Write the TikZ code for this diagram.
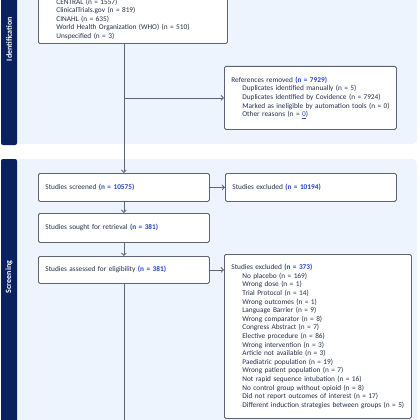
\documentclass[tikz,border=0pt]{standalone}
\usepackage{fontspec}
\setmainfont{Carlito}
\usetikzlibrary{arrows.meta}
\definecolor{navy}{HTML}{0A2160}
\definecolor{panel}{HTML}{EEF4FD}
\definecolor{boxline}{HTML}{5B6579}
\definecolor{txt}{HTML}{222E4A}
\definecolor{count}{HTML}{2547C5}
\newcommand{\cnt}[1]{\textcolor{count}{\textbf{#1}}}
\newcommand{\subln}[1]{\mbox{\hspace{11pt}#1}}
\begin{document}
\begin{tikzpicture}[x=1pt,y=-1pt,font=\fontsize{7.3}{8.6}\selectfont,
  box/.style={draw=boxline,line width=0.8pt,fill=white,rounded corners=1.5pt,
    anchor=north west,align=left,inner xsep=7pt,text=txt},
  arr/.style={draw=boxline,line width=0.8pt,-{Straight Barb[length=2.5pt,width=5pt]}},
  lbl/.style={rotate=90,text=white,font=\fontsize{8}{9}\selectfont\bfseries}]
\useasboundingbox (0,0) rectangle (420,420);
\clip (0,0) rectangle (420,420);
% bands
\fill[panel,rounded corners=4pt] (12,-10) rectangle (417,144);
\fill[navy,rounded corners=2pt] (1,-10) rectangle (17,145);
\fill[panel,rounded corners=4pt] (12,159) rectangle (417,430);
\fill[navy,rounded corners=2pt] (1,159) rectangle (17,430);
\node[lbl] (identlbl) at (9,39) {Identification};
\node[lbl] (screenlbl) at (9,277) {Screening};
% boxes
\node[box,anchor=south west,text width=175pt,inner ysep=4pt] (records) at (38,44)
  {\subln{CENTRAL (n = 1557)}\\
   \subln{ClinicalTrials.gov (n = 819)}\\
   \subln{CINAHL (n = 635)}\\
   \subln{World Health Organization (WHO) (n = 510)}\\
   \subln{Unspecified (n = 3)}};
\node[box,text width=158pt,minimum height=63pt] (removed) at (224,66)
  {References removed \cnt{(n = 7929)}\\
   \subln{Duplicates identified manually (n = 5)}\\
   \subln{Duplicates identified by Covidence (n = 7924)}\\
   \subln{Marked as ineligible by automation tools (n = 0)}\\
   \subln{Other reasons (n = \textcolor{count}{\underline{0}})}};
\node[box,text width=157pt,minimum height=28pt] (screened) at (38,173)
  {Studies screened \cnt{(n = 10575)}};
\node[box,text width=157pt,minimum height=28pt] (excluded) at (225,173)
  {Studies excluded \cnt{(n = 10194)}};
\node[box,text width=157pt,minimum height=29pt] (sought) at (38,213)
  {Studies sought for retrieval \cnt{(n = 381)}};
\node[box,text width=157pt,minimum height=27pt] (assessed) at (38,256)
  {Studies assessed for eligibility \cnt{(n = 381)}};
\node[box,text width=173pt,minimum height=164pt] (reasons) at (224,254)
  {Studies excluded \cnt{(n = 373)}\\
   \subln{No placebo (n = 169)}\\
   \subln{Wrong dose (n = 1)}\\
   \subln{Trial Protocol (n = 14)}\\
   \subln{Wrong outcomes (n = 1)}\\
   \subln{Language Barrier (n = 9)}\\
   \subln{Wrong comparator (n = 8)}\\
   \subln{Congress Abstract (n = 7)}\\
   \subln{Elective procedure (n = 86)}\\
   \subln{Wrong intervention (n = 3)}\\
   \subln{Article not available (n = 3)}\\
   \subln{Paediatric population (n = 19)}\\
   \subln{Wrong patient population (n = 7)}\\
   \subln{Not rapid sequence intubation (n = 16)}\\
   \subln{No control group without opioid (n = 8)}\\
   \subln{Did not report outcomes of interest (n = 17)}\\
   \subln{Different induction strategies between groups (n = 5)}};
% connectors
\coordinate (split) at (screened.north |- removed.west);
\coordinate (bottom) at (123,430);
\draw[boxline,line width=0.8pt] (records.south -| screened.north) -- (split);
\draw[arr] (split) -- (screened.north);
\draw[arr] (split) -- (removed.west);
\draw[arr] (screened.east) -- (excluded.west);
\draw[arr] (screened.south) -- (sought.north);
\draw[arr] (sought.south) -- (assessed.north);
\draw[arr] (assessed.east) -- (reasons.west |- assessed.east);
\draw[boxline,line width=0.8pt] (assessed.south) -- (assessed.south |- bottom);
\end{tikzpicture}
\end{document}
